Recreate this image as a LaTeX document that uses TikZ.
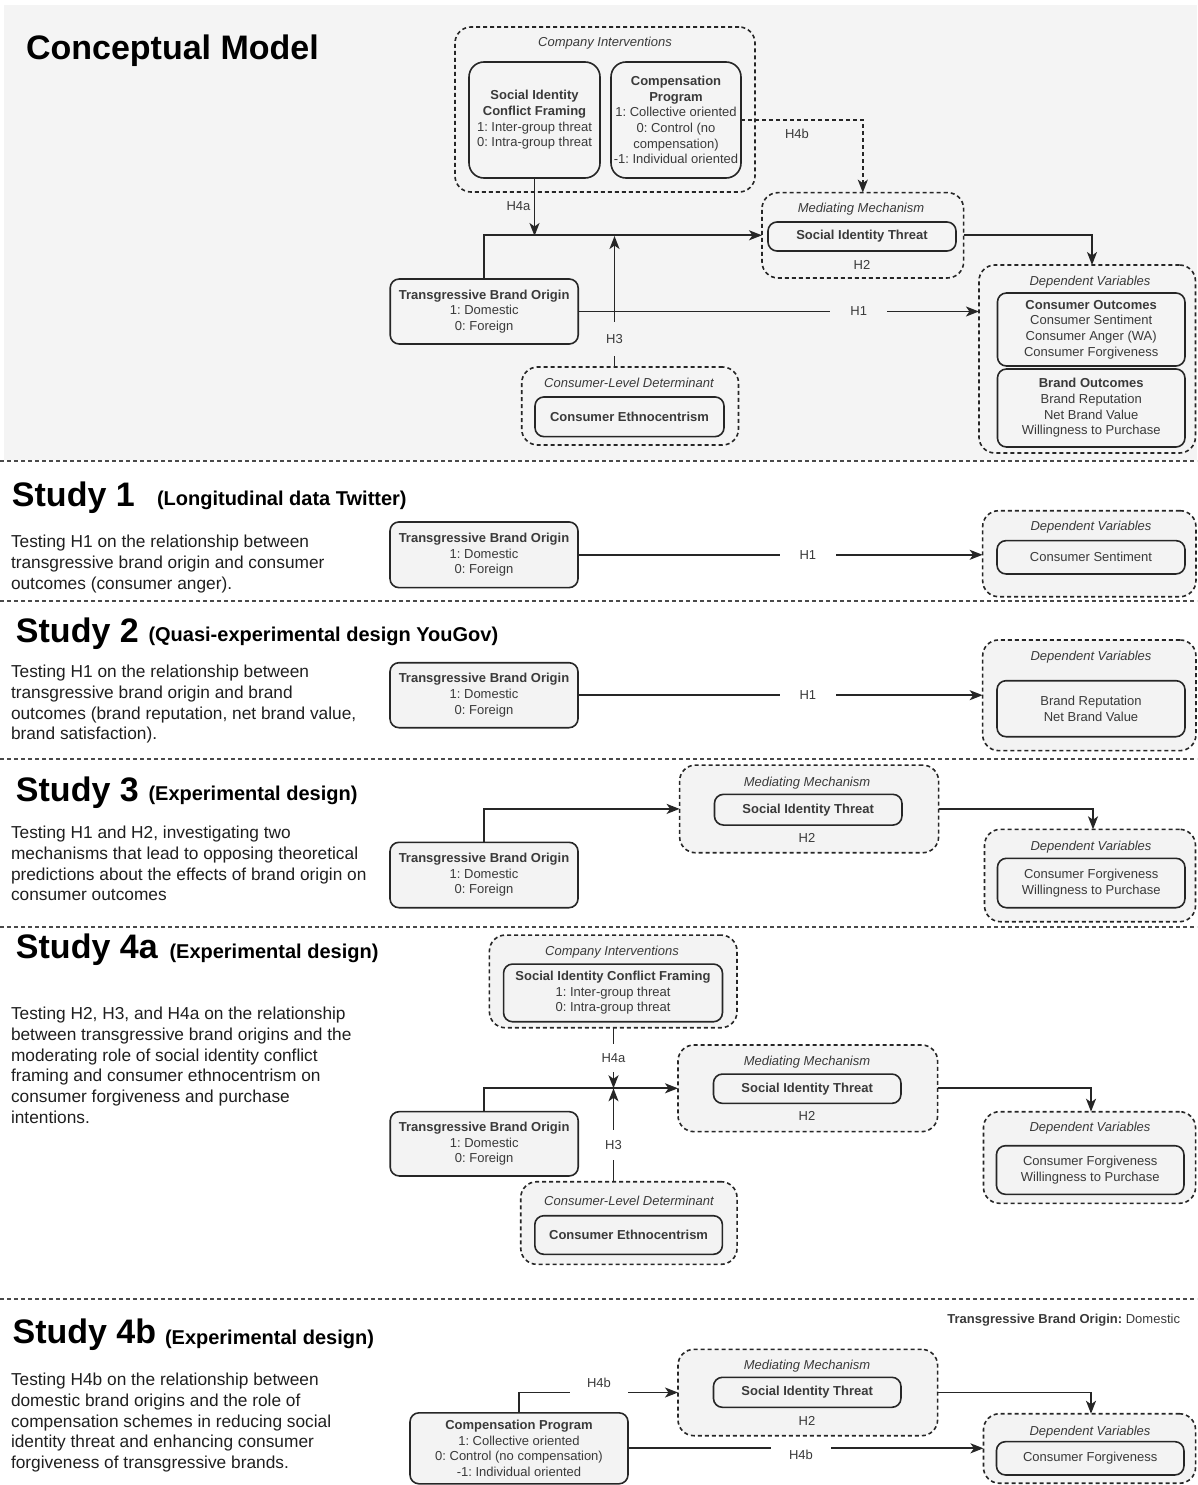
\documentclass[tikz,border=0pt]{standalone}
\usepackage{fontspec}
\setmainfont{Liberation Sans}
\usetikzlibrary{arrows.meta}
\definecolor{bgtop}{HTML}{F4F4F4}
\definecolor{boxfill}{HTML}{F3F3F3}
\definecolor{ink}{HTML}{262626}
\definecolor{txt}{HTML}{3A3A3A}
\definecolor{sepc}{HTML}{4A4A4A}
\frenchspacing
\begin{document}
\frenchspacing
\begin{tikzpicture}[x=1pt,y=-1pt,
  every node/.style={inner sep=0pt, outer sep=0pt},
  box/.style={draw=ink, line width=1.6pt, rounded corners=9pt, align=center, font=\fontsize{13}{15.6}\selectfont\frenchspacing, text=txt},
  cont/.style={draw=ink, line width=1.6pt, dash pattern=on 4pt off 3pt, rounded corners=16pt},
  clabel/.style={font=\fontsize{13}{15.6}\selectfont\itshape, text=txt},
  hlabel/.style={font=\fontsize{13}{15.6}\selectfont\frenchspacing, text=txt},
  conn/.style={draw=ink, line width=1.7pt, -{Stealth[length=13pt,width=10pt,inset=3.5pt]}},
  sepline/.style={draw=sepc, line width=1.5pt, dash pattern=on 4pt off 3pt},
  title/.style={font=\fontsize{34}{40}\selectfont\bfseries, anchor=base west},
  sub/.style={font=\fontsize{20}{24}\selectfont\bfseries, anchor=base west},
  body/.style={font=\fontsize{17.3}{20.8}\selectfont\frenchspacing, align=left, anchor=north west, text=black!88},
  tbo/.style={box, minimum width=188pt, minimum height=65pt},
]
\useasboundingbox (0,0) rectangle (1197,1485);
\fill[bgtop] (4,5) rectangle (1197,460);

% ================= Conceptual model =================
\node[title] (tcm) at (26,59.5) {Conceptual Model};

\node[cont, minimum width=300pt, minimum height=165pt] (ci1) at (605,109.5) {};
\node[clabel] (ci1l) at (605,43) {Company Interventions};
\node[box, fill=bgtop, rounded corners=15pt, minimum width=131pt, minimum height=116pt] (sicf1) at (534.5,120)
  {\textbf{Social Identity}\\\textbf{Conflict Framing}\\1: Inter-group threat\\0: Intra-group threat};
\node[box, fill=bgtop, rounded corners=15pt, minimum width=130pt, minimum height=116pt] (cp1) at (676,120)
  {\textbf{Compensation}\\\textbf{Program}\\1: Collective oriented\\0: Control (no\\compensation)\\-1: Individual oriented};

\node[cont, minimum width=201.6pt, minimum height=85.3pt] (mm1) at (862.8,235.3) {};
\node[clabel] (mm1l) at (861,209) {Mediating Mechanism};
\node[box, fill=bgtop, minimum width=188pt, minimum height=29pt] (sit1) at (862,236.5) {\textbf{Social Identity Threat}};
\node[hlabel] (h2a) at (862,265) {H2};

\node[cont, minimum width=216.5pt, minimum height=188pt] (dv1) at (1087.2,359) {};
\node[clabel] (dv1l) at (1090,281.7) {Dependent Variables};
\node[box, fill=bgtop, minimum width=187.5pt, minimum height=73pt] (co1) at (1091.2,329.5)
  {\textbf{Consumer Outcomes}\\Consumer Sentiment\\Consumer Anger (WA)\\Consumer Forgiveness};
\node[box, fill=bgtop, minimum width=187.5pt, minimum height=78pt] (bo1) at (1091.2,408)
  {\textbf{Brand Outcomes}\\Brand Reputation\\Net Brand Value\\Willingness to Purchase};

\node[tbo, fill=bgtop] (tbo1) at (484.2,311.5) {\textbf{Transgressive Brand Origin}\\1: Domestic\\0: Foreign};

\node[cont, minimum width=216.8pt, minimum height=78pt] (cld1) at (630.1,406) {};
\node[clabel] (cld1l) at (629,382.7) {Consumer-Level Determinant};
\node[box, fill=bgtop, minimum width=189pt, minimum height=39.7pt] (ce1) at (629.5,416.8) {\textbf{Consumer Ethnocentrism}};

\coordinate (j1) at (534.5,236);
\coordinate (j2) at (614.5,236);
\draw[conn] (sicf1.south) -- (j1);
\node[hlabel] (h4a1) at (518.5,206) {H4a};
\draw[conn] (tbo1.north) |- (mm1.west);
\draw[conn] (cld1.north -| j2) -- node[pos=0.214, hlabel, fill=bgtop, inner xsep=3pt, inner ysep=12.5pt] (h31) {H3} (j2);
\draw[conn] (tbo1.east) -- node[pos=0.70, hlabel, fill=bgtop, inner xsep=20pt, inner ysep=4pt] (h11) {H1} (tbo1.east -| dv1.west);
\draw[conn] (mm1.east) -| ([xshift=4.8pt]dv1.north);
\draw[conn, dash pattern=on 4pt off 3pt] (cp1.east) -| (mm1.north);
\node[hlabel] (h4b1) at (797,134) {H4b};

% separators
\foreach \yy in {461,601,759,927,1299} \draw[sepline] (0,\yy) -- (1197,\yy);

% ================= Study 1 =================
\node[title] (ts1) at (12,506) {Study 1};
\node[sub] (ss1) at (157,505) {(Longitudinal data Twitter)};
\node[body] (bs1) at (11,535) {Testing H1 on the relationship between\\transgressive brand origin and consumer\\outcomes (consumer anger).};
\node[tbo, fill=boxfill, minimum height=65.7pt] (tbo2) at (484,554.8) {\textbf{Transgressive Brand Origin}\\1: Domestic\\0: Foreign};
\node[cont, fill=boxfill, minimum width=213.3pt, minimum height=86pt] (dv2) at (1089.3,553.7) {};
\node[clabel] (dv2l) at (1091,527.3) {Dependent Variables};
\node[box, fill=boxfill, minimum width=188pt, minimum height=33.3pt] (cs2) at (1091,557.3) {Consumer Sentiment};
\draw[conn] (tbo2.east) -- node[pos=0.568, hlabel, fill=white, inner xsep=20pt, inner ysep=4pt] (h12) {H1} (tbo2.east -| dv2.west);

% ================= Study 2 =================
\node[title] (ts2) at (16,642) {Study 2};
\node[sub] (ss2) at (148.5,641) {(Quasi-experimental design YouGov)};
\node[body] (bs2) at (11,665) {Testing H1 on the relationship between\\transgressive brand origin and brand\\outcomes (brand reputation, net brand value,\\brand satisfaction).};
\node[tbo, fill=boxfill] (tbo3) at (484,695.2) {\textbf{Transgressive Brand Origin}\\1: Domestic\\0: Foreign};
\node[cont, fill=boxfill, minimum width=213.3pt, minimum height=110.7pt] (dv3) at (1089.3,695.3) {};
\node[clabel] (dv3l) at (1091,656.7) {Dependent Variables};
\node[box, fill=boxfill, minimum width=188pt, minimum height=56pt] (br3) at (1091,708.7) {Brand Reputation\\Net Brand Value};
\draw[conn] (tbo3.east) -- node[pos=0.568, hlabel, fill=white, inner xsep=20pt, inner ysep=4pt] (h13) {H1} (tbo3.east -| dv3.west);

% ================= Study 3 =================
\node[title] (ts3) at (16,801) {Study 3};
\node[sub] (ss3) at (148.5,800) {(Experimental design)};
\node[body] (bs3) at (11,826) {Testing H1 and H2, investigating two\\mechanisms that lead to opposing theoretical\\predictions about the effects of brand origin on\\consumer outcomes};
\node[cont, fill=boxfill, minimum width=259pt, minimum height=87.7pt] (mm4) at (809.1,808.9) {};
\node[clabel] (mm4l) at (807,783.3) {Mediating Mechanism};
\node[box, fill=boxfill, minimum width=187.5pt, minimum height=30.7pt] (sit4) at (808.2,809.7) {\textbf{Social Identity Threat}};
\node[hlabel] (h24) at (807,837.7) {H2};
\node[tbo, fill=boxfill, minimum height=65.4pt] (tbo4) at (484,875) {\textbf{Transgressive Brand Origin}\\1: Domestic\\0: Foreign};
\node[cont, fill=boxfill, minimum width=211pt, minimum height=92.4pt] (dv4) at (1090,875.5) {};
\node[clabel] (dv4l) at (1091,847.3) {Dependent Variables};
\node[box, fill=boxfill, minimum width=187.5pt, minimum height=49.4pt] (cf4) at (1091.2,883) {Consumer Forgiveness\\Willingness to Purchase};
\draw[conn] (tbo4.north) |- (mm4.west);
\draw[conn] (mm4.east) -| ([xshift=3pt]dv4.north);

% ================= Study 4a =================
\node[title] (ts5) at (16,958) {Study 4a};
\node[sub] (ss5) at (169.5,958) {(Experimental design)};
\node[body] (bs5) at (11,1007) {Testing H2, H3, and H4a on the relationship\\between transgressive brand origins and the\\moderating role of social identity conflict\\framing and consumer ethnocentrism on\\consumer forgiveness and purchase\\intentions.};
\node[cont, fill=boxfill, minimum width=247.6pt, minimum height=92.7pt] (ci5) at (613.2,981.4) {};
\node[clabel] (ci5l) at (612,951.7) {Company Interventions};
\node[box, fill=boxfill, minimum width=218.9pt, minimum height=57.7pt] (sicf5) at (613,992.9)
  {\textbf{Social Identity Conflict Framing}\\1: Inter-group threat\\0: Intra-group threat};
\node[cont, fill=boxfill, minimum width=259.6pt, minimum height=86.7pt] (mm5) at (807.8,1088.3) {};
\node[clabel] (mm5l) at (807,1061.7) {Mediating Mechanism};
\node[box, fill=boxfill, minimum width=187.5pt, minimum height=29.3pt] (sit5) at (807.2,1088.7) {\textbf{Social Identity Threat}};
\node[hlabel] (h25) at (807,1116) {H2};
\node[tbo, fill=boxfill, minimum height=64.3pt] (tbo5) at (484.2,1143.8) {\textbf{Transgressive Brand Origin}\\1: Domestic\\0: Foreign};
\node[cont, fill=boxfill, minimum width=216.3pt, minimum height=82.6pt] (cld5) at (628.9,1223) {};
\node[clabel] (cld5l) at (629,1201) {Consumer-Level Determinant};
\node[box, fill=boxfill, minimum width=187.6pt, minimum height=38.6pt] (ce5) at (628.6,1235) {\textbf{Consumer Ethnocentrism}};
\node[cont, fill=boxfill, minimum width=212.1pt, minimum height=91.6pt] (dv5) at (1089.5,1157.5) {};
\node[clabel] (dv5l) at (1090,1128.3) {Dependent Variables};
\node[box, fill=boxfill, minimum width=187.5pt, minimum height=48.6pt] (cf5) at (1090.2,1170) {Consumer Forgiveness\\Willingness to Purchase};
\coordinate (j5) at (613.5,1088.3);
\draw[conn] (tbo5.north) |- (mm5.west);
\draw[conn] (ci5.south -| j5) -- node[pos=0.495, hlabel, fill=white, inner xsep=3pt, inner ysep=9.5pt] (h4a5) {H4a} (j5);
\draw[conn] (cld5.north -| j5) -- node[pos=0.393, hlabel, fill=white, inner xsep=3pt, inner ysep=10pt] (h35) {H3} (j5);
\draw[conn] (mm5.east) -| ([xshift=1.5pt]dv5.north);

% ================= Study 4b =================
\node[title] (ts6) at (12.6,1343) {Study 4b};
\node[sub] (ss6) at (165,1344) {(Experimental design)};
\node[hlabel, anchor=base east] (orig6) at (1180,1323) {\textbf{Transgressive Brand Origin:} Domestic};
\node[body] (bs6) at (11,1373) {Testing H4b on the relationship between\\domestic brand origins and the role of\\compensation schemes in reducing social\\identity threat and enhancing consumer\\forgiveness of transgressive brands.};
\node[cont, fill=boxfill, minimum width=259.6pt, minimum height=86.4pt] (mm6) at (807.8,1392.5) {};
\node[clabel] (mm6l) at (807,1365.7) {Mediating Mechanism};
\node[box, fill=boxfill, minimum width=187.5pt, minimum height=30pt] (sit6) at (807.2,1392.3) {\textbf{Social Identity Threat}};
\node[hlabel] (h26) at (807,1420.7) {H2};
\node[box, fill=boxfill, minimum width=218pt, minimum height=71pt] (cp6) at (519,1448.3)
  {\textbf{Compensation Program}\\1: Collective oriented\\0: Control (no compensation)\\-1: Individual oriented};
\node[cont, fill=boxfill, minimum width=212.1pt, minimum height=69.5pt] (dv6) at (1089.5,1448.5) {};
\node[clabel] (dv6l) at (1090,1431.7) {Dependent Variables};
\node[box, fill=boxfill, minimum width=187.5pt, minimum height=33.3pt] (cf6) at (1090.2,1458.3) {Consumer Forgiveness};
\draw[conn] (cp6.north) |- (mm6.west);
\node[hlabel, fill=white, minimum width=58pt, minimum height=26pt] (h4b6a) at (599,1383) {H4b};
\draw[conn] (cp6.east) -- (cp6.east -| dv6.west);
\node[hlabel, fill=white, minimum width=60pt, minimum height=22pt] (h4b6b) at (801,1455) {H4b};
\draw[conn] (mm6.east) -| ([xshift=1.5pt]dv6.north);
\end{tikzpicture}
\end{document}
